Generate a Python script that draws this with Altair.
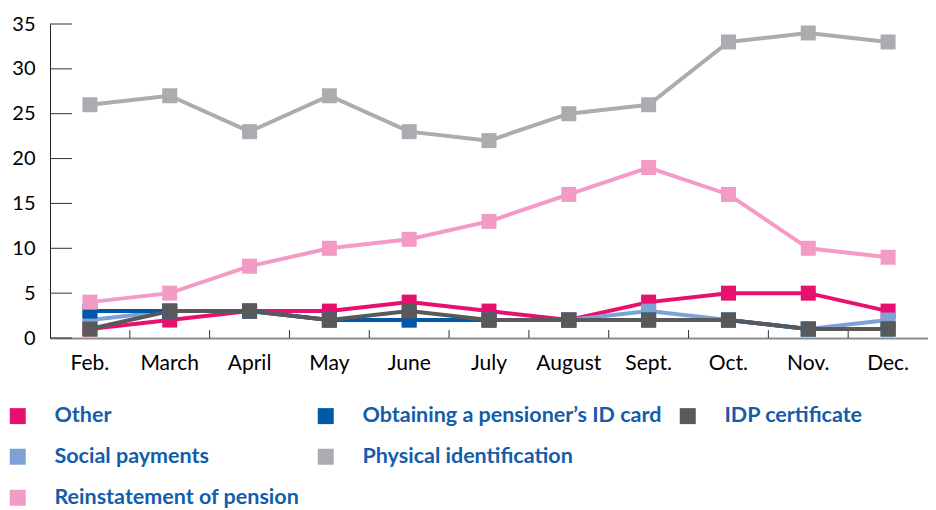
import altair as alt
import pandas as pd

months = ["Feb.", "March", "April", "May", "June", "July", "August", "Sept.", "Oct.", "Nov.", "Dec."]
series_names = [
    "Other",
    "Obtaining a pensioner\u2019s ID card",
    "IDP certificate",
    "Social payments",
    "Physical identification",
    "Reinstatement of pension",
]
series_colors = ["#E8106E", "#0058A9", "#58595B", "#7FA2D6", "#ACACB0", "#F39AC5"]

other = [1, 2, 3, 3, 4, 3, 2, 4, 5, 5, 3]
obtaining = [3, 3, 3, 2, 2, 2, 2, 2, 2, 1, 1]
idp = [1, 3, 3, 2, 3, 2, 2, 2, 2, 1, 1]
social = [2, 3, 3, 2, 2, 2, 2, 3, 2, 1, 2]
physical = [26, 27, 23, 27, 23, 22, 25, 26, 33, 34, 33]
reinstatement = [4, 5, 8, 10, 11, 13, 16, 19, 16, 10, 9]
series_values = [other, obtaining, idp, social, physical, reinstatement]

draw_order = [
    "Other",
    "Social payments",
    "Obtaining a pensioner\u2019s ID card",
    "IDP certificate",
    "Reinstatement of pension",
    "Physical identification",
]

y_ticks = [0, 5, 10, 15, 20, 25, 30, 35]

rows = []
for name, vals in zip(series_names, series_values):
    for m, v in zip(months, vals):
        rows.append({"month": m, "series": name, "value": v})
df = pd.DataFrame(rows)

# legend grid: 3 columns, row 2 has an empty slot so the last entry wraps to row 3
legend_domain = series_names[:5] + [""] + series_names[5:]
legend_range = series_colors[:5] + ["transparent"] + series_colors[5:]

W, H = 878, 314
FONT = "Lato"

x_scale = alt.Scale(type="band", domain=months, paddingInner=0, paddingOuter=0)
y_scale = alt.Scale(domain=[0, 35], nice=False, zero=True)

x_axis = alt.Axis(title=None, labelAngle=0, labelFont=FONT, labelFontSize=21, labelColor="#000000",
                  ticks=False, tickSize=0, domainColor="#8C8C8C", domainWidth=2, labelPadding=14,
                  grid=False)
y_axis = alt.Axis(title=None, values=y_ticks, labelFont=FONT, labelFontSize=20, labelColor="#000000",
                  ticks=False, tickSize=0, domainColor="#222222", domainWidth=1, labelPadding=15,
                  grid=False)

legend = alt.Legend(
    title=None, orient="none", legendX=-43, legendY=381, columns=3, direction="horizontal",
    symbolType="square", symbolSize=256, symbolStrokeWidth=0, symbolOpacity=1,
    labelFont=FONT, labelFontSize=21.5, labelFontWeight="bold", labelColor="#135DAA",
    labelOffset=26, labelLimit=600, rowPadding=18, columnPadding=15, padding=0,
)

color = alt.Color("series:N", scale=alt.Scale(domain=legend_domain, range=legend_range), legend=legend)
X = alt.X("month:N", scale=x_scale, axis=x_axis)
Y = alt.Y("value:Q", scale=y_scale, axis=y_axis)

layers = []

ytick_df = pd.DataFrame({"value": y_ticks})
layers.append(
    alt.Chart(ytick_df).mark_rule(color="#333333", strokeWidth=1).encode(
        y=Y, x=alt.value(0), x2=alt.value(22)
    )
)
xtick_df = pd.DataFrame({"month": months[1:]})
layers.append(
    alt.Chart(xtick_df).mark_rule(color="#333333", strokeWidth=1).encode(
        x=alt.X("month:N", scale=x_scale, axis=x_axis, bandPosition=0),
        y=alt.value(H), y2=alt.value(H - 8)
    )
)

for name in draw_order:
    base = alt.Chart(df).transform_filter(alt.FieldEqualPredicate(field="series", equal=name))
    layers.append(base.mark_line(strokeWidth=4).encode(x=X, y=Y, color=color))
    layers.append(base.mark_point(shape="square", size=225, filled=True, opacity=1).encode(x=X, y=Y, color=color))

chart = alt.layer(*layers).properties(
    width=W, height=H,
    autosize=alt.AutoSizeParams(type="none"),
    padding={"left": 42, "top": 16, "right": 0, "bottom": 172},
).configure_view(stroke=None)

chart.save("out.html", embed_options={"renderer": "svg", "actions": False})
